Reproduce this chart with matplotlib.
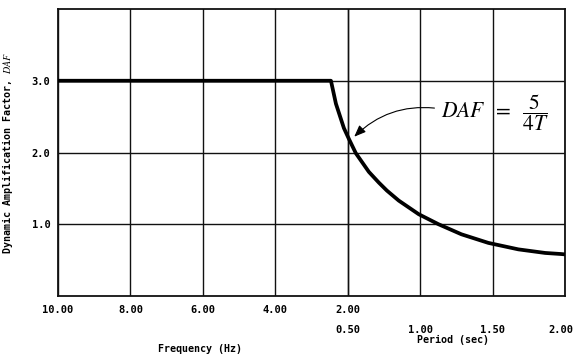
import numpy as np
import matplotlib
matplotlib.use("Agg")
import matplotlib.pyplot as plt
import matplotlib.transforms as mtransforms

# curve: period (sec) vs DAF
period = [0.10, 0.406, 0.430, 0.475, 0.508, 0.556, 0.646, 0.715, 0.770,
          0.852, 0.990, 1.127, 1.285, 1.471, 1.678, 1.863, 1.973, 2.00]
daf = [3.00, 3.00, 2.68, 2.34, 2.19, 1.99, 1.73, 1.58, 1.47,
       1.33, 1.14, 1.00, 0.86, 0.74, 0.65, 0.60, 0.585, 0.58]

freq_ticks = [10, 8, 6, 4, 2]
freq_labels = ["10.00", "8.00", "6.00", "4.00", "2.00"]
period_ticks = [0.5, 1.0, 1.5, 2.0]
period_labels = ["0.50", "1.00", "1.50", "2.00"]
daf_ticks = [1.0, 2.0, 3.0]
daf_labels = ["1.0", "2.0", "3.0"]


# left part of the axis is linear in frequency, right part linear in period
def fwd(T):
    T = np.clip(np.asarray(T, float), 1e-6, None)
    return np.where(T <= 0.5, (10 - 1 / T) / 2, 4 + (T - 0.5) * 2)


def inv(u):
    u = np.asarray(u, float)
    return np.where(u <= 4, 1 / (10 - 2 * np.minimum(u, 4)), 0.5 + (u - 4) / 2)


mono = "DejaVu Sans Mono"
plt.rcParams["mathtext.fontset"] = "stix"

fig = plt.figure(figsize=(5.76, 3.57), dpi=100)
ax = fig.add_axes([58 / 576, 1 - 296 / 357, 507 / 576, 287 / 357])
ax.set_xscale("function", functions=(fwd, inv))
ax.set_xlim(0.1, 2.0)
ax.set_ylim(0, 4)

ax.plot(period, daf, color="black", lw=2.7, solid_joinstyle="round",
        solid_capstyle="butt", zorder=3)

ax.set_xticks([1 / f for f in freq_ticks])
ax.set_xticklabels(freq_labels)
ax.set_xticks(period_ticks, minor=True)
ax.set_xticklabels(period_labels, minor=True)
ax.xaxis.remove_overlapping_locs = False
ax.set_yticks(daf_ticks)
ax.set_yticklabels(daf_labels)

ax.tick_params(axis="x", which="major", length=0, pad=6.5)
ax.tick_params(axis="x", which="minor", length=0, pad=21)
ax.tick_params(axis="y", length=0, pad=5.5)
for lab in ax.get_xticklabels() + ax.get_xticklabels(minor=True) + ax.get_yticklabels():
    lab.set_fontfamily(mono)
    lab.set_fontweight("bold")
    lab.set_fontsize(7.5)

# last period label sits at the page edge; nudge it in a little
last = ax.xaxis.get_minor_ticks()[-1].label1
last.set_transform(last.get_transform() +
                   mtransforms.ScaledTranslation(-4 / 100, 0, fig.dpi_scale_trans))

ax.grid(which="both", axis="x", color="#111111", lw=1.0)
ax.grid(which="major", axis="y", color="#111111", lw=1.0)
for s in ax.spines.values():
    s.set_linewidth(1.3)
    s.set_color("#111111")

ax.set_ylabel("Dynamic Amplification Factor, $DAF$", fontfamily=mono,
              fontweight="bold", fontsize=7.2)
ax.yaxis.set_label_coords(-0.085, 0.5)

fig.text(200 / 576, 1 - 349 / 357, "Frequency (Hz)", ha="center", va="center",
         fontfamily=mono, fontweight="bold", fontsize=7.2)
fig.text(453 / 576, 1 - 340 / 357, "Period (sec)", ha="center", va="center",
         fontfamily=mono, fontweight="bold", fontsize=7.2)

ax.annotate(r"$DAF\;\ =\;\ \dfrac{5}{4T}$", xy=(0.545, 2.22), xytext=(1.52, 2.55),
            ha="center", va="center", fontsize=15.5,
            arrowprops=dict(arrowstyle="-|>,head_length=0.45,head_width=0.18",
                            color="black", lw=0.8, shrinkA=3, shrinkB=0,
                            relpos=(0, 0.6),
                            connectionstyle="arc3,rad=0.25"))

fig.savefig("out.png", dpi=100)
